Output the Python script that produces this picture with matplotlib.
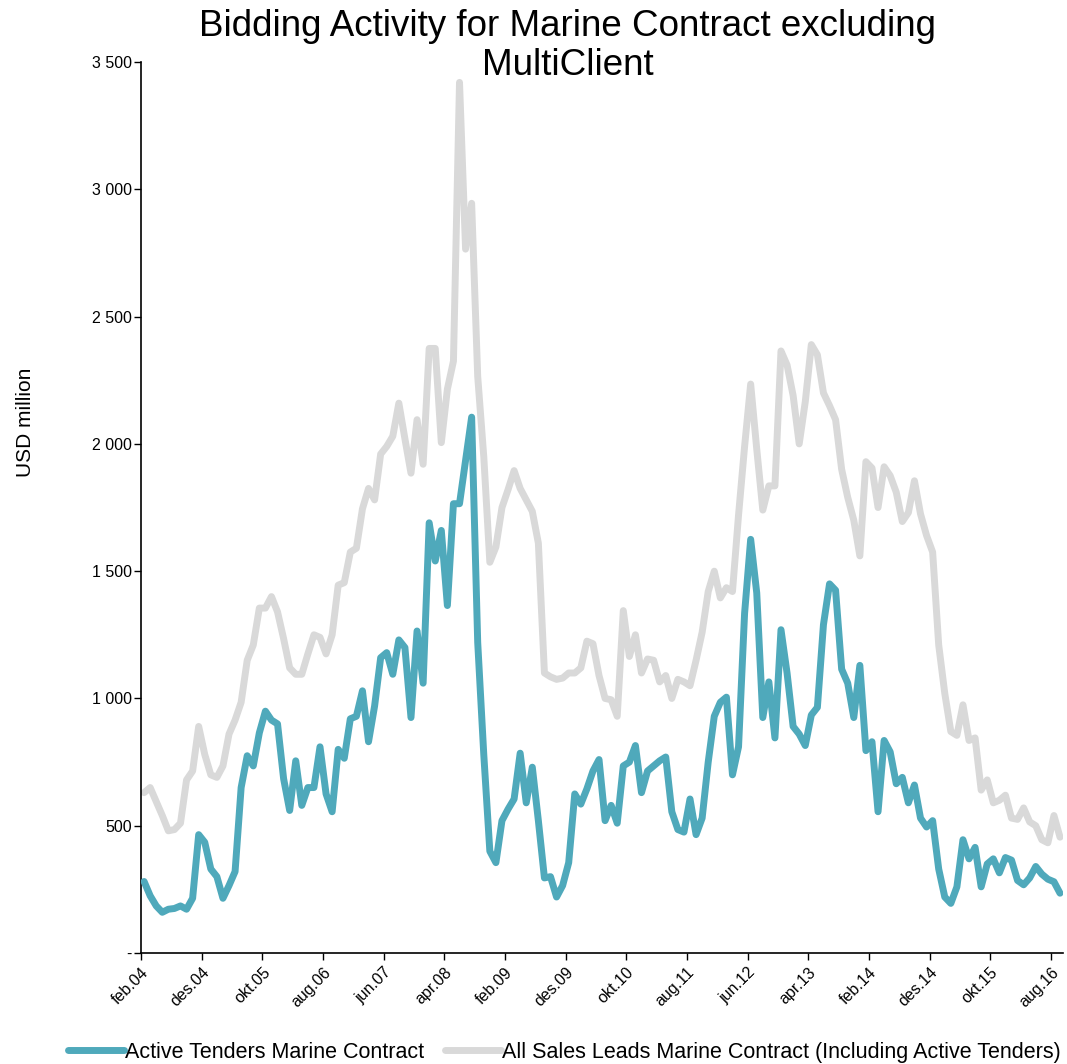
import numpy as np
import matplotlib
matplotlib.use("Agg")
import matplotlib.pyplot as plt

plt.rcParams['font.family'] = ['Liberation Sans', 'DejaVu Sans']

# monthly values, feb.04 .. sep.16 (USD million)
active_tenders = [
    281, 225, 185, 160, 172, 175, 185, 172, 215, 465,
    435, 330, 300, 215, 265, 320, 650, 775, 735, 865,
    950, 915, 900, 685, 560, 755, 580, 650, 650, 810,
    625, 555, 800, 765, 920, 930, 1030, 830, 970, 1160,
    1180, 1095, 1230, 1200, 925, 1265, 1060, 1690, 1540, 1660,
    1365, 1765, 1765, 1935, 2105, 1220, 780, 400, 355, 520,
    565, 605, 785, 590, 730, 520, 295, 300, 220, 265,
    355, 625, 585, 645, 715, 760, 520, 580, 510, 735,
    750, 815, 630, 715, 735, 755, 770, 555, 485, 475,
    605, 465, 530, 750, 930, 985, 1005, 700, 810, 1335,
    1625, 1415, 925, 1065, 845, 1270, 1100, 890, 860, 815,
    935, 965, 1290, 1450, 1425, 1115, 1060, 925, 1130, 795,
    830, 555, 835, 790, 665, 690, 590, 660, 530, 495,
    520, 330, 220, 195, 260, 445, 370, 415, 260, 350,
    370, 315, 375, 365, 285, 268, 295, 340, 310, 290,
    280, 235,
]

all_sales_leads = [
    630, 650, 595, 540, 480, 485, 510, 680, 715, 890,
    780, 700, 690, 735, 860, 915, 985, 1150, 1210, 1355,
    1355, 1400, 1340, 1235, 1120, 1095, 1095, 1175, 1250, 1240,
    1175, 1250, 1445, 1455, 1575, 1590, 1745, 1825, 1780, 1960,
    1990, 2030, 2160, 2020, 1885, 2095, 1920, 2375, 2375, 2005,
    2215, 2325, 3420, 2765, 2945, 2265, 1950, 1535, 1595, 1750,
    1820, 1895, 1825, 1780, 1735, 1610, 1100, 1085, 1075, 1080,
    1100, 1100, 1120, 1225, 1215, 1090, 1000, 995, 930, 1345,
    1165, 1250, 1100, 1155, 1150, 1065, 1090, 1000, 1075, 1065,
    1050, 1150, 1260, 1420, 1500, 1395, 1435, 1420, 1720, 1990,
    2235, 1980, 1740, 1835, 1835, 2365, 2310, 2190, 2000, 2165,
    2390, 2350, 2200, 2150, 2095, 1900, 1790, 1700, 1560, 1930,
    1905, 1750, 1910, 1875, 1810, 1695, 1730, 1855, 1725, 1640,
    1575, 1210, 1020, 870, 855, 975, 835, 845, 640, 680,
    590, 600, 620, 530, 525, 570, 515, 500, 445, 433,
    540, 455,
]

tick_labels = ['feb.04', 'des.04', 'okt.05', 'aug.06', 'jun.07', 'apr.08',
               'feb.09', 'des.09', 'okt.10', 'aug.11', 'jun.12', 'apr.13',
               'feb.14', 'des.14', 'okt.15', 'aug.16']

y_ticks = [0, 500, 1000, 1500, 2000, 2500, 3000, 3500]
y_tick_labels = ['-', '500', '1 000', '1 500', '2 000', '2 500', '3 000', '3 500']

teal = '#4FA9BB'
grey = '#D9D9D9'

n = len(active_tenders)
x = np.arange(n) + 0.5

fig = plt.figure(figsize=(10.67, 10.64), dpi=100)
ax = fig.add_axes([0.1322, 0.1043, 0.8641, 0.8374])

ax.plot(x, all_sales_leads, color=grey, lw=5, solid_joinstyle='round',
        solid_capstyle='round', zorder=2,
        label='All Sales Leads Marine Contract (Including Active Tenders)')
ax.plot(x, active_tenders, color=teal, lw=5, solid_joinstyle='round',
        solid_capstyle='round', zorder=3,
        label='Active Tenders Marine Contract')

ax.set_xlim(0, n)
ax.set_ylim(0, 3500)
ax.set_yticks(y_ticks)
ax.set_yticklabels(y_tick_labels, fontsize=11.5)
ax.set_xticks(np.arange(0, 10 * len(tick_labels), 10))
ax.set_xticklabels(tick_labels, rotation=45, ha='right', rotation_mode='anchor',
                   fontsize=11.5)
ax.tick_params(axis='both', direction='out', length=5, width=1, colors='black')
ax.tick_params(axis='y', pad=1.5)

for s in ['top', 'right']:
    ax.spines[s].set_visible(False)
for s in ['left', 'bottom']:
    ax.spines[s].set_linewidth(1.2)
    ax.spines[s].set_color('black')

fig.text(0.024, 0.603, 'USD million', rotation=90, ha='center', va='center',
         fontsize=15)

fig.text(0.532, 0.992, 'Bidding Activity for Marine Contract excluding\nMultiClient',
         ha='center', va='top', fontsize=26.5, linespacing=1.17)

handles, labels = ax.get_legend_handles_labels()
fig.legend(handles[::-1], labels[::-1], loc='lower center', ncol=2,
           bbox_to_anchor=(0.529, -0.017), frameon=False, fontsize=15.5,
           handlelength=2.6, handletextpad=0.05, columnspacing=1.0)

fig.savefig('out.png', dpi=100)
